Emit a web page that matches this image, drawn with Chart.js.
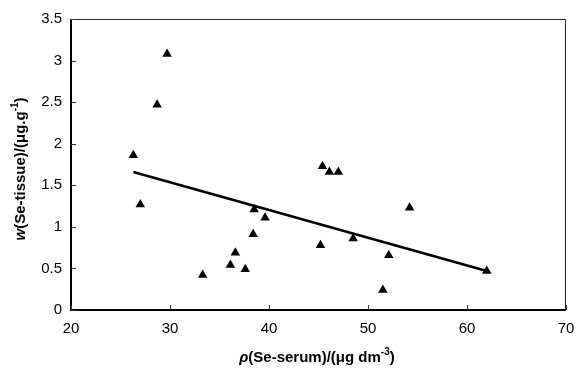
<!DOCTYPE html>
<html>
<head>
<meta charset="utf-8">
<script src="https://cdn.jsdelivr.net/npm/chart.js@4/dist/chart.umd.min.js"></script>
<style>
  html, body { margin: 0; padding: 0; background: #fff; }
  #wrap { width: 577px; height: 374px; position: relative; }
</style>
</head>
<body>
<div id="wrap"><canvas id="scatterChart"></canvas></div>
<script>
// Se in serum (x) vs Se in tissue (y)
const serumSe  = [26.3, 27.0, 28.7, 29.7, 33.3, 36.1, 36.6, 37.6, 38.4, 38.5, 39.6, 45.2, 45.4, 46.1, 47.0, 48.5, 51.5, 52.1, 54.2, 62.0];
const tissueSe = [1.86, 1.27, 2.47, 3.08, 0.42, 0.54, 0.69, 0.49, 0.91, 1.21, 1.11, 0.78, 1.73, 1.66, 1.66, 0.86, 0.24, 0.66, 1.23, 0.47];

// linear trend line end points
const trendX = [26.3, 62.0];
const trendY = [1.66, 0.47];

const xTicks = [20, 30, 40, 50, 60, 70];
const yTicks = [0, 0.5, 1, 1.5, 2, 2.5, 3, 3.5];

const FONT = "'Liberation Sans', Arial, sans-serif";

// draws a line of text made of segments (italic / superscript)
function drawRich(ctx, parts, cx, cy, rotate) {
    ctx.save();
    ctx.translate(cx, cy);
    if (rotate) ctx.rotate(-Math.PI / 2);
    ctx.textBaseline = 'middle';
    ctx.fillStyle = '#000';
    let total = 0;
    parts.forEach(p => {
        ctx.font = (p.italic ? 'italic ' : '') + 'bold ' + (p.sup ? 10 : 15) + 'px ' + FONT;
        p.w = ctx.measureText(p.t).width;
        total += p.w;
    });
    let x = -total / 2;
    parts.forEach(p => {
        ctx.font = (p.italic ? 'italic ' : '') + 'bold ' + (p.sup ? 10 : 15) + 'px ' + FONT;
        ctx.fillText(p.t, x, p.sup ? -6 : 0);
        x += p.w;
    });
    ctx.restore();
}

const framePlugin = {
    id: 'frame',
    afterDraw(chart) {
        const ctx = chart.ctx;
        const a = chart.chartArea;
        const xs = chart.scales.x, ys = chart.scales.y;
        ctx.save();
        // top + right thin border
        ctx.strokeStyle = '#222';
        ctx.lineWidth = 1;
        ctx.beginPath();
        ctx.moveTo(a.left, a.top + 0.5);
        ctx.lineTo(a.right - 0.5, a.top + 0.5);
        ctx.lineTo(a.right - 0.5, a.bottom);
        ctx.stroke();
        // left + bottom axes
        ctx.strokeStyle = '#000';
        ctx.lineWidth = 2;
        ctx.beginPath();
        ctx.moveTo(a.left, a.top);
        ctx.lineTo(a.left, a.bottom);
        ctx.lineTo(a.right, a.bottom);
        ctx.stroke();
        // inward tick marks
        ctx.lineWidth = 1;
        ctx.strokeStyle = '#333';
        ctx.beginPath();
        xTicks.forEach(v => {
            const px = Math.round(xs.getPixelForValue(v)) + 0.5;
            ctx.moveTo(px, a.bottom);
            ctx.lineTo(px, a.bottom - 5);
        });
        yTicks.forEach(v => {
            const py = Math.round(ys.getPixelForValue(v)) + 0.5;
            ctx.moveTo(a.left, py);
            ctx.lineTo(a.left + 5, py);
        });
        ctx.stroke();
        ctx.restore();

        drawRich(ctx, [
            { t: 'ρ', italic: true },
            { t: '(Se-serum)/(μg dm' },
            { t: '-3', sup: true },
            { t: ')' }
        ], 317, 358, false);
        drawRich(ctx, [
            { t: 'w', italic: true },
            { t: '(Se-tissue)/(μg.g' },
            { t: '-1', sup: true },
            { t: ')' }
        ], 21, 169, true);
    }
};

const points = serumSe.map((x, i) => ({ x: x, y: tissueSe[i] }));
const trend = trendX.map((x, i) => ({ x: x, y: trendY[i] }));

new Chart(document.getElementById('scatterChart'), {
    type: 'scatter',
    data: {
        datasets: [{
            label: 'trend',
            type: 'line',
            data: trend,
            borderColor: '#000',
            borderWidth: 2.5,
            pointRadius: 0,
            fill: false,
            order: 2
        }, {
            label: 'samples',
            data: points,
            pointStyle: 'triangle',
            pointRadius: 5.5,
            backgroundColor: '#000',
            borderColor: '#000',
            borderWidth: 0,
            order: 1
        }]
    },
    options: {
        responsive: true,
        maintainAspectRatio: false,
        animation: false,
        layout: { padding: { left: 0, right: 11, top: 19, bottom: 0 } },
        plugins: {
            legend: { display: false },
            tooltip: { enabled: false }
        },
        scales: {
            x: {
                type: 'linear',
                min: 20,
                max: 70,
                afterFit(scale) {
                    scale.height = 64;
                    scale.paddingLeft = 0;
                    scale.paddingRight = 0;
                },
                afterBuildTicks(scale) { scale.ticks = xTicks.map(v => ({ value: v })); },
                grid: { display: false, drawTicks: false },
                border: { display: false },
                ticks: {
                    padding: 10,
                    color: '#000',
                    font: { family: FONT, size: 15 },
                    callback: v => String(v)
                }
            },
            y: {
                type: 'linear',
                min: 0,
                max: 3.5,
                afterFit(scale) {
                    scale.width = 71;
                    scale.paddingTop = 0;
                    scale.paddingBottom = 0;
                },
                afterBuildTicks(scale) { scale.ticks = yTicks.map(v => ({ value: v })); },
                grid: { display: false, drawTicks: false },
                border: { display: false },
                ticks: {
                    padding: 9,
                    color: '#000',
                    font: { family: FONT, size: 15 },
                    callback: v => String(v)
                }
            }
        }
    },
    plugins: [framePlugin]
});
</script>
</body>
</html>
